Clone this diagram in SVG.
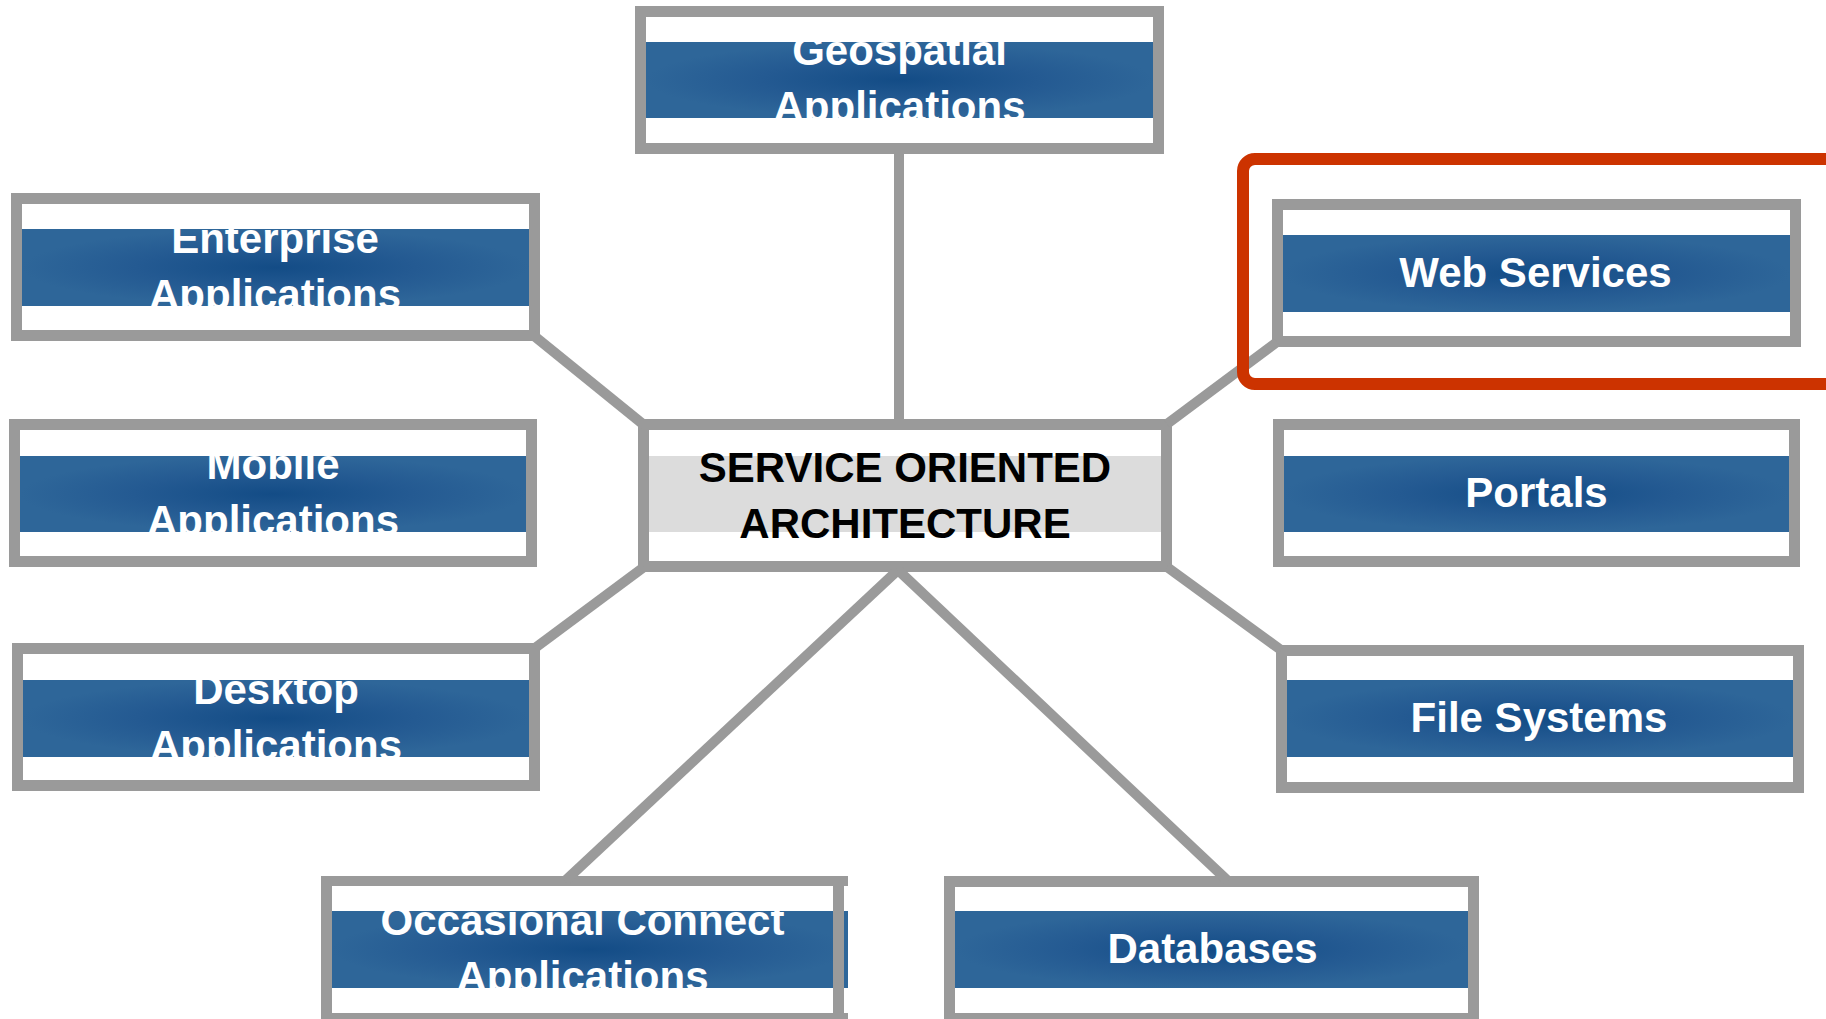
<svg xmlns="http://www.w3.org/2000/svg" width="1826" height="1019" viewBox="0 0 1826 1019">
  <style>
    .frame { fill: #ffffff; stroke: #9a9a9a; stroke-width: 11; }
    .band { fill: url(#bandGrad); }
    .hub-band { fill: #dcdcdc; }
    .label { font-family: "Liberation Sans", Arial, sans-serif; font-weight: bold; font-size: 42px; fill: #ffffff; text-anchor: middle; }
    .hub-label { font-family: "Liberation Sans", Arial, sans-serif; font-weight: bold; font-size: 42px; fill: #000000; text-anchor: middle; }
    .link { stroke: #9a9a9a; stroke-width: 10; fill: none; }
    .edge { fill: #9a9a9a; }
    .highlight { fill: none; stroke: #cc3300; stroke-width: 12; }
  </style>
  <defs>
    <radialGradient id="bandGrad" cx="0.5" cy="0.5" r="0.5">
      <stop offset="0" stop-color="#134c86"/>
      <stop offset="0.55" stop-color="#245a92"/>
      <stop offset="1" stop-color="#2e6699"/>
    </radialGradient>
    <clipPath id="clipGeo"><rect x="646" y="42" width="507" height="76"/></clipPath>
    <clipPath id="clipEnt"><rect x="22" y="229" width="507" height="77"/></clipPath>
    <clipPath id="clipMob"><rect x="20" y="456" width="506" height="76"/></clipPath>
    <clipPath id="clipDesk"><rect x="23" y="680" width="506" height="77"/></clipPath>
    <clipPath id="clipOcc"><rect x="332" y="911" width="516" height="77"/></clipPath>
    <clipPath id="clipDb"><rect x="955" y="911" width="513" height="77"/></clipPath>
  </defs>

  <rect width="1826" height="1019" fill="#ffffff"/>

  <!-- hub -->
  <g id="soa">
    <rect class="frame" x="643.5" y="424.5" width="523" height="142"/>
    <rect class="hub-band" x="649" y="456" width="512" height="76"/>
    <text class="hub-label" x="905" y="482">SERVICE ORIENTED</text>
    <text class="hub-label" x="905" y="538">ARCHITECTURE</text>
  </g>

  <g id="geospatial">
    <rect class="frame" x="640.5" y="11.5" width="518" height="137"/>
    <rect class="band" x="646" y="42" width="507" height="76"/>
    <g clip-path="url(#clipGeo)">
      <text class="label" x="899.5" y="65">Geospatial</text>
      <text class="label" x="899.5" y="121">Applications</text>
    </g>
  </g>

  <g id="enterprise">
    <rect class="frame" x="16.5" y="198.5" width="518" height="137"/>
    <rect class="band" x="22" y="229" width="507" height="77"/>
    <g clip-path="url(#clipEnt)">
      <text class="label" x="275" y="252.5">Enterprise</text>
      <text class="label" x="275" y="308.5">Applications</text>
    </g>
  </g>

  <g id="mobile">
    <rect class="frame" x="14.5" y="424.5" width="517" height="137"/>
    <rect class="band" x="20" y="456" width="506" height="76"/>
    <g clip-path="url(#clipMob)">
      <text class="label" x="273" y="479">Mobile</text>
      <text class="label" x="273" y="535">Applications</text>
    </g>
  </g>

  <g id="desktop">
    <rect class="frame" x="17.5" y="648.5" width="517" height="137"/>
    <rect class="band" x="23" y="680" width="506" height="77"/>
    <g clip-path="url(#clipDesk)">
      <text class="label" x="276" y="703.5">Desktop</text>
      <text class="label" x="276" y="759.5">Applications</text>
    </g>
  </g>

  <g id="web-services">
    <rect class="frame" x="1277.5" y="204.5" width="518" height="137"/>
    <rect class="band" x="1283" y="235" width="507" height="77"/>
    <text class="label" x="1535.5" y="286.5">Web Services</text>
  </g>

  <g id="portals">
    <rect class="frame" x="1278.5" y="424.5" width="516" height="137"/>
    <rect class="band" x="1284" y="456" width="505" height="76"/>
    <text class="label" x="1536.5" y="507">Portals</text>
  </g>

  <g id="file-systems">
    <rect class="frame" x="1281.5" y="650.5" width="517" height="137"/>
    <rect class="band" x="1287" y="680" width="506" height="77"/>
    <text class="label" x="1539" y="731.5">File Systems</text>
  </g>

  <g id="occasional-connect">
    <rect x="332" y="886" width="512" height="128" fill="#ffffff"/>
    <rect class="band" x="332" y="911" width="516" height="77"/>
    <g clip-path="url(#clipOcc)">
      <text class="label" x="582.5" y="934.5">Occasional Connect</text>
      <text class="label" x="582.5" y="990.5">Applications</text>
    </g>
    <rect class="edge" x="321" y="876" width="527" height="10"/>
    <rect class="edge" x="321" y="1013" width="527" height="11"/>
    <rect class="edge" x="321" y="876" width="11" height="148"/>
    <rect class="edge" x="833" y="876" width="11" height="148"/>
  </g>

  <g id="databases">
    <rect class="frame" x="949.5" y="881.5" width="524" height="137"/>
    <rect class="band" x="955" y="911" width="513" height="77"/>
    <text class="label" x="1212.5" y="962.5">Databases</text>
  </g>

  <!-- connectors from the hub to the surrounding nodes -->
  <g id="connectors">
    <line class="link" x1="899" y1="154" x2="899" y2="420"/>
    <line class="link" x1="533" y1="335" x2="644" y2="425"/>
    <line class="link" x1="535" y1="648" x2="644" y2="567"/>
    <line class="link" x1="1277" y1="342" x2="1167" y2="424"/>
    <line class="link" x1="1167" y1="567" x2="1281" y2="650"/>
    <line class="link" x1="898" y1="570" x2="565" y2="881"/>
    <line class="link" x1="898" y1="570" x2="1228" y2="881"/>
  </g>

  <!-- highlight around Web Services -->
  <g id="highlight">
    <rect class="highlight" x="1243" y="159" width="700" height="225" rx="12" ry="12"/>
  </g>
</svg>
